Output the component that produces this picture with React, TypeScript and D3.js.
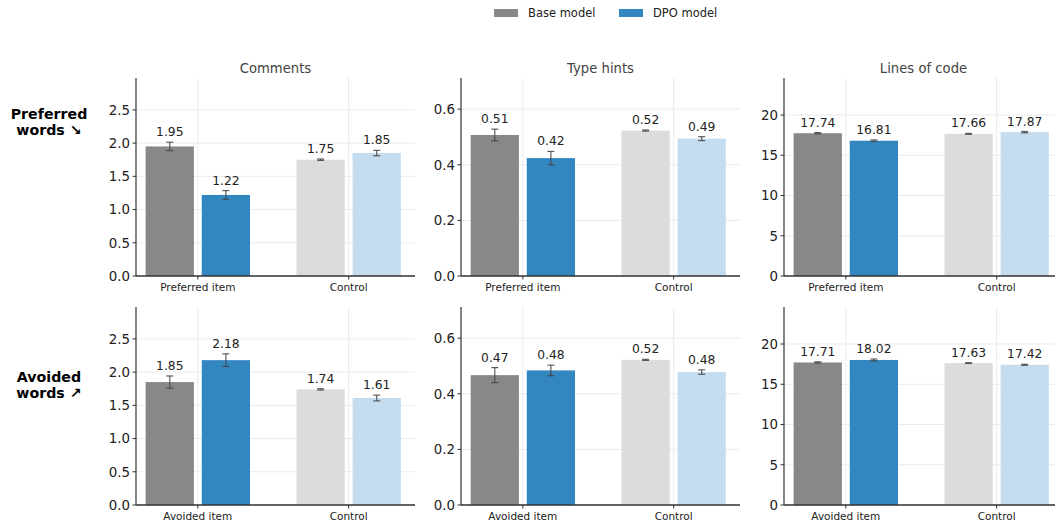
import React from "react";
import * as d3 from "d3";

// ---------- data ----------
const metrics = ["Comments", "Type hints", "Lines of code"];
const rowLabels = [["Preferred", "words ↘"], ["Avoided", "words ↗"]];
const rowCategories = [["Preferred item", "Control"], ["Avoided item", "Control"]];
const seriesNames = ["Base model", "DPO model"];

// row 0: preferred words (per metric)
const prefItemBase = [1.95, 0.507, 17.74];
const prefItemDpo = [1.22, 0.424, 16.81];
const prefCtrlBase = [1.75, 0.523, 17.66];
const prefCtrlDpo = [1.85, 0.494, 17.87];
const prefItemBaseErr = [0.063, 0.021, 0.08];
const prefItemDpoErr = [0.065, 0.024, 0.1];
const prefCtrlBaseErr = [0.01, 0.002, 0.05];
const prefCtrlDpoErr = [0.04, 0.007, 0.08];

// row 1: avoided words (per metric)
const avoItemBase = [1.85, 0.467, 17.71];
const avoItemDpo = [2.18, 0.484, 18.02];
const avoCtrlBase = [1.74, 0.522, 17.63];
const avoCtrlDpo = [1.61, 0.478, 17.42];
const avoItemBaseErr = [0.092, 0.027, 0.08];
const avoItemDpoErr = [0.095, 0.019, 0.12];
const avoCtrlBaseErr = [0.01, 0.002, 0.04];
const avoCtrlDpoErr = [0.043, 0.008, 0.07];

const yMax = [2.98, 0.712, 24.6];
const yTicks = [
  [0, 0.5, 1.0, 1.5, 2.0, 2.5],
  [0, 0.2, 0.4, 0.6],
  [0, 5, 10, 15, 20],
];
const yTickFormat = [".1f", ".1f", "d"];

// ---------- styles ----------
const W = 1055;
const H = 525;
const FONT = "DejaVu Sans, sans-serif";
const panelLeft = [136, 461, 784];
const panelWidth = 279;
const rowTop = [78, 307];
const panelHeight = 198;
const colors = {
  base: "#888888",
  dpo: "#3387c0",
  baseCtrl: "#dcdcdc",
  dpoCtrl: "#c4dcef",
};
const barW = 0.32;
const barOff = 0.186;

const rowsData = [
  {
    bars: [prefItemBase, prefItemDpo, prefCtrlBase, prefCtrlDpo],
    errs: [prefItemBaseErr, prefItemDpoErr, prefCtrlBaseErr, prefCtrlDpoErr],
  },
  {
    bars: [avoItemBase, avoItemDpo, avoCtrlBase, avoCtrlDpo],
    errs: [avoItemBaseErr, avoItemDpoErr, avoCtrlBaseErr, avoCtrlDpoErr],
  },
];
const barCat = [0, 0, 1, 1];
const barSide = [-1, 1, -1, 1];
const barColor = [colors.base, colors.dpo, colors.baseCtrl, colors.dpoCtrl];

function Panel({ row, col }: { row: number; col: number }) {
  const x0 = panelLeft[col];
  const y0 = rowTop[row];
  const x = d3.scaleLinear().domain([-0.41, 1.44]).range([0, panelWidth]);
  const y = d3.scaleLinear().domain([0, yMax[col]]).range([panelHeight, 0]);
  const fmt = d3.format(yTickFormat[col]);
  const { bars, errs } = rowsData[row];
  return (
    <g transform={`translate(${x0},${y0})`}>
      {/* grid */}
      {yTicks[col].map((t) => (
        <line key={"h" + t} x1={0} x2={panelWidth} y1={y(t)} y2={y(t)} stroke="#ebebeb" strokeWidth={1} />
      ))}
      {[0, 1].map((c) => (
        <line key={"v" + c} x1={x(c)} x2={x(c)} y1={0} y2={panelHeight} stroke="#ebebeb" strokeWidth={1} />
      ))}
      {/* bars */}
      {bars.map((vals, i) => {
        const v = vals[col];
        const e = errs[i][col];
        const cx = x(barCat[i] + barSide[i] * barOff);
        const bw = x(barW) - x(0);
        return (
          <g key={"b" + i}>
            <rect x={cx - bw / 2} y={y(v)} width={bw} height={y(0) - y(v)} fill={barColor[i]} />
            <line x1={cx} x2={cx} y1={y(v + e)} y2={y(v - e)} stroke="#444" strokeWidth={1.2} opacity={0.85} />
            <line x1={cx - 3.5} x2={cx + 3.5} y1={y(v + e)} y2={y(v + e)} stroke="#444" strokeWidth={1.2} opacity={0.85} />
            <line x1={cx - 3.5} x2={cx + 3.5} y1={y(v - e)} y2={y(v - e)} stroke="#444" strokeWidth={1.2} opacity={0.85} />
            <text x={cx} y={y(v + e) - 6} textAnchor="middle" fontSize={12.3} fill="#222" fontFamily={FONT}>
              {v.toFixed(2)}
            </text>
          </g>
        );
      })}
      {/* y axis */}
      <line x1={0} x2={0} y1={0} y2={panelHeight} stroke="#333" strokeWidth={1.2} />
      {yTicks[col].map((t) => (
        <g key={"yt" + t}>
          <line x1={-3.5} x2={0} y1={y(t)} y2={y(t)} stroke="#333" strokeWidth={1} />
          <text x={-6} y={y(t)} dy="0.36em" textAnchor="end" fontSize={13.4} fill="#222" fontFamily={FONT}>
            {fmt(t)}
          </text>
        </g>
      ))}
      {/* x axis */}
      <line x1={0} x2={panelWidth} y1={panelHeight} y2={panelHeight} stroke="#333" strokeWidth={1.4} />
      {rowCategories[row].map((c, i) => (
        <g key={"xt" + i}>
          <line x1={x(i)} x2={x(i)} y1={panelHeight} y2={panelHeight + 3.5} stroke="#333" strokeWidth={1} />
          <text x={x(i)} y={panelHeight + 14.5} textAnchor="middle" fontSize={10.5} fill="#222" fontFamily={FONT}>
            {c}
          </text>
        </g>
      ))}
      {row === 0 && (
        <text x={panelWidth / 2} y={-5} textAnchor="middle" fontSize={13.2} fill="#444" fontFamily={FONT}>
          {metrics[col]}
        </text>
      )}
    </g>
  );
}

export default function App() {
  const legendItems = [
    { name: seriesNames[0], color: colors.base, x: 494 },
    { name: seriesNames[1], color: colors.dpo, x: 619 },
  ];
  const rowLabelY = [119.3, 382.3];
  return (
    <svg
      width={W}
      height={H}
      style={{ position: "absolute", left: 0, top: 0, background: "#fff" }}
      fontFamily={FONT}
    >
      <rect x={0} y={0} width={W} height={H} fill="#fff" />
      {legendItems.map((l) => (
        <g key={l.name}>
          <rect x={l.x} y={9} width={24} height={8} fill={l.color} />
          <text x={l.x + 34} y={17.3} fontSize={11.5} fill="#222" fontFamily={FONT}>
            {l.name}
          </text>
        </g>
      ))}
      {rowLabels.map((lines, r) => (
        <text key={"rl" + r} x={49} y={rowLabelY[r]} textAnchor="middle" fontSize={14.2} fontWeight="bold" fill="#000" fontFamily={FONT}>
          {lines.map((ln, k) => (
            <tspan key={k} x={49} dy={k === 0 ? 0 : 16}>
              {ln}
            </tspan>
          ))}
        </text>
      ))}
      {[0, 1].map((r) => [0, 1, 2].map((c) => <Panel key={`${r}-${c}`} row={r} col={c} />))}
    </svg>
  );
}
